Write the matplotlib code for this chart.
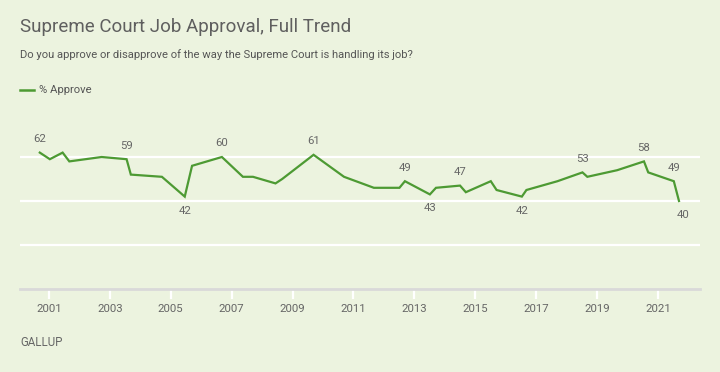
import numpy as np
import matplotlib.pyplot as plt

plt.rcParams["font.family"] = ["Roboto", "DejaVu Sans"]

BG    = "#ecf3df"
GREEN = "#4d9a33"
GREY  = "#666666"

# survey dates (decimal year) and % approve
dates = [2000.70, 2001.03, 2001.45, 2001.67, 2002.73, 2003.55, 2003.69, 2004.71,
         2005.46, 2005.70, 2006.68, 2007.37, 2007.70, 2008.44, 2008.66, 2009.69,
         2010.69, 2011.67, 2012.51, 2012.69, 2013.51, 2013.71, 2014.50, 2014.69,
         2015.51, 2015.70, 2016.53, 2016.68, 2017.70, 2018.52, 2018.68, 2019.66,
         2020.54, 2020.68, 2021.52, 2021.69]
approve = [62, 59, 62, 58, 60, 59, 52, 51,
           42, 56, 60, 51, 51, 48, 50, 61,
           51, 46, 46, 49, 43, 46, 47, 44,
           49, 45, 42, 45, 49, 53, 51, 54,
           58, 53, 49, 40]

# which points get a value label, and whether it goes above or below
label_idx   = [0, 5, 8, 10, 15, 19, 20, 22, 26, 29, 32, 34, 35]
label_below = [False, False, True, False, False, False, True, False, True, False, False, False, True]

years = list(range(2001, 2022, 2))

fig = plt.figure(figsize=(7.2, 3.72), dpi=100, facecolor=BG)
ax = fig.add_axes([20/720, 1 - 289/372, 680/720, 176/372], facecolor=BG)

for g in [20, 40, 60]:
    ax.axhline(g, color="white", lw=1.6, zorder=1)

ax.plot(dates, approve, color=GREEN, lw=1.6, zorder=3, solid_joinstyle="miter")

for i, below in zip(label_idx, label_below):
    off = -14 if below else 13.5
    dx = 4 if i == len(dates) - 1 else 0
    ax.annotate(str(approve[i]), (dates[i], approve[i]), xytext=(dx * 0.72, off * 0.72),
                textcoords="offset points", ha="center", va="center",
                fontsize=8.2, color=GREY, zorder=4)

ax.set_xlim(2000.05, 2022.38)
ax.set_ylim(0, 80)
ax.set_yticks([])
ax.set_xticks(years)
ax.set_xticklabels([str(y) for y in years], fontsize=8.2, color=GREY)
ax.tick_params(axis="x", length=7, width=1.6, color="white", pad=4)
for s in ["top", "right", "left"]:
    ax.spines[s].set_visible(False)
ax.spines["bottom"].set_color("#d9d9d9")
ax.spines["bottom"].set_linewidth(2)

fig.text(20/720, 1 - 27/372, "Supreme Court Job Approval, Full Trend",
         fontsize=13.5, color="#5f5f5f", va="center", ha="left")
fig.text(20/720, 1 - 55/372, "Do you approve or disapprove of the way the Supreme Court is handling its job?",
         fontsize=8.1, color="#555555", va="center", ha="left")
fig.add_artist(plt.Line2D([20/720, 34/720], [1 - 90/372, 1 - 90/372], color=GREEN, lw=1.8))
fig.text(39/720, 1 - 90/372, "% Approve", fontsize=8.1, color="#555555", va="center", ha="left")
fig.text(20/720, 1 - 342/372, "GALLUP", fontsize=8.3, color=GREY, va="center", ha="left")

fig.savefig("out.png", dpi=100, facecolor=BG)
